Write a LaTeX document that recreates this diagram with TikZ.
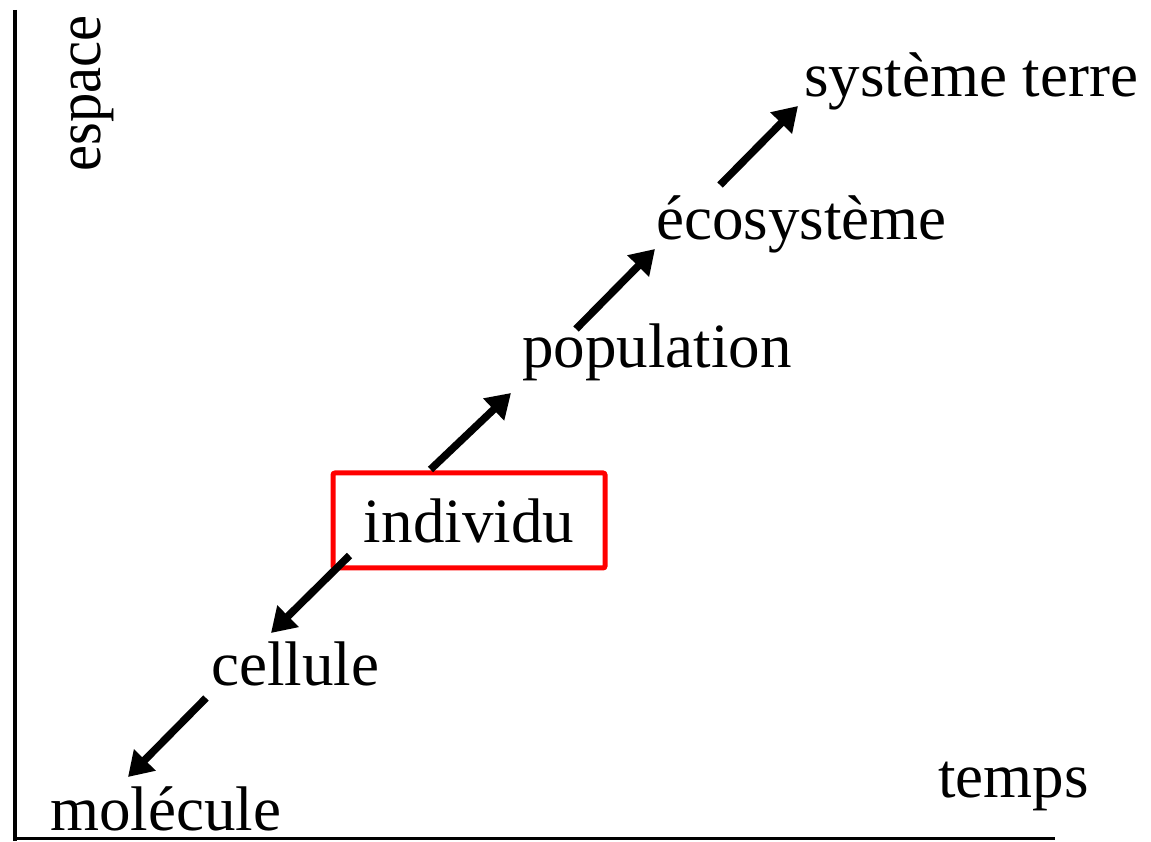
\documentclass[tikz,border=0pt]{standalone}
\usepackage{fontspec}
\setmainfont{Liberation Serif}
\usetikzlibrary{arrows.meta}
\begin{document}
\begin{tikzpicture}[x=1pt,y=1pt,
  lbl/.style={inner sep=0pt,anchor=base west,font=\fontsize{63}{75}\selectfont},
  axis/.style={line width=4pt,black},
  arr/.style={line width=7.5pt,-{Triangle[length=24pt,width=29pt]}},
  focus/.style={draw=red,line width=5pt,rounded corners=2pt,inner sep=0pt,
    minimum width=272pt,minimum height=95pt,font=\fontsize{63}{75}\selectfont}]
\useasboundingbox (0,0) rectangle (1151,841);

% axes
\coordinate (top) at (15,831);
\coordinate (origin) at (15,0.5);
\coordinate (right) at (1055,2.5);
\draw[axis] (top) -- (origin);
\draw[axis,line width=3pt] (13,2.5) -- (right);

% axis labels
\node[lbl,rotate=90] (espace) at (100,669) {\scalebox{0.93}[1]{espace}};
\node[lbl] (temps) at (938,44) {temps};

% levels of organisation
\node[lbl] (molecule) at (50,11) {molécule};
\node[lbl] (cellule) at (211,156) {cellule};
\node[focus] (individu) at (469,320.5) {individu};
\node[lbl] (population) at (522,473) {population};
\node[lbl] (ecosysteme) at (656,601) {écosystème};
\node[lbl] (systeme) at (804,744) {système terre};

% connectors
\draw[arr] ([shift={(-5,-13)}]cellule.base west) -- ([shift={(78,53)}]molecule.base west);
\draw[arr] ([shift={(19,15)}]individu.south west) -- ([shift={(60,52)}]cellule.base west);
\draw[arr] ([shift={(100,1)}]individu.north west) -- ([shift={(-11,-25)}]population.base west);
\draw[arr] ([shift={(54,39)}]population.base west) -- ([shift={(-1,-9)}]ecosysteme.base west);
\draw[arr] ([shift={(64,55)}]ecosysteme.base west) -- ([shift={(-6,-9)}]systeme.base west);
\end{tikzpicture}
\end{document}
